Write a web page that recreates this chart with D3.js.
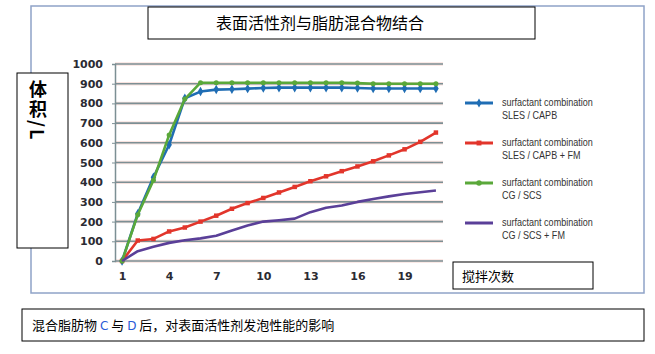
<!DOCTYPE html>
<html>
<head>
<meta charset="utf-8">
<script src="https://cdn.jsdelivr.net/npm/d3@7"></script>
<style>
  body { margin: 0; background: #fff; }
  svg { display: block; }
</style>
</head>
<body>
<div id="chart"></div>
<script>
// Data
const runs = [1, 2, 3, 4, 5, 6, 7, 8, 9, 10, 11, 12, 13, 14, 15, 16, 17, 18, 19, 20, 21];
const slesCapb = [0, 240, 425, 590, 826, 860, 870, 872, 875, 878, 880, 880, 880, 880, 880, 878, 876, 876, 876, 876, 876];
const slesCapbFm = [0, 104, 112, 150, 170, 200, 230, 265, 294, 320, 348, 376, 405, 430, 456, 480, 506, 536, 567, 605, 652];
const cgScs = [0, 235, 410, 640, 822, 905, 905, 905, 905, 905, 905, 905, 905, 905, 905, 903, 900, 900, 900, 900, 900];
const cgScsFm = [0, 50, 72, 92, 105, 115, 128, 155, 180, 200, 207, 215, 248, 270, 282, 300, 315, 328, 340, 349, 358];
const yTicks = [0, 100, 200, 300, 400, 500, 600, 700, 800, 900, 1000];
const xTicks = [1, 4, 7, 10, 13, 16, 19];

const series = [
  { name: ["surfactant combination", "SLES / CAPB"], values: slesCapb, color: "#1f6db4", symbol: d3.symbolDiamond },
  { name: ["surfactant combination", "SLES / CAPB + FM"], values: slesCapbFm, color: "#e2352b", symbol: d3.symbolSquare },
  { name: ["surfactant combination", "CG / SCS"], values: cgScs, color: "#5aa83a", symbol: d3.symbolCircle },
  { name: ["surfactant combination", "CG / SCS + FM"], values: cgScsFm, color: "#5a3f98", symbol: null }
];

const width = 655, height = 354;
const svg = d3.select("#chart").append("svg")
  .attr("width", width)
  .attr("height", height);

const cjk = "'Noto Sans CJK SC', sans-serif";
const tickFont = "'DejaVu Sans', sans-serif";

// Outer frame
svg.append("rect")
  .attr("x", 31).attr("y", 6).attr("width", 613).attr("height", 287)
  .attr("fill", "#fff").attr("stroke", "#8fa3c7").attr("stroke-width", 1.5);

// Title box
svg.append("rect")
  .attr("x", 148).attr("y", 7).attr("width", 387).attr("height", 32)
  .attr("fill", "#fff").attr("stroke", "#000").attr("stroke-width", 1);
svg.append("text")
  .attr("x", 320).attr("y", 29)
  .attr("text-anchor", "middle")
  .attr("font-family", cjk)
  .attr("font-size", 16)
  .attr("fill", "#000")
  .text("表面活性剂与脂肪混合物结合");

// Scales
const x = d3.scaleLinear().domain([0.55, 21.45]).range([115, 443]);
const y = d3.scaleLinear().domain([0, 1000]).range([261, 64]);

// Grid lines (gray with a faint pink halo, as in the scan)
svg.append("g")
  .selectAll("line")
  .data(yTicks)
  .join("line")
  .attr("x1", x(0.55)).attr("x2", x(21.45))
  .attr("y1", d => y(d)).attr("y2", d => y(d))
  .attr("stroke", "#f8e2de").attr("stroke-width", 3.5);
svg.append("g")
  .selectAll("line")
  .data(yTicks)
  .join("line")
  .attr("x1", x(0.55)).attr("x2", x(21.45))
  .attr("y1", d => y(d)).attr("y2", d => y(d))
  .attr("stroke", "#7c8f94").attr("stroke-width", 1.6);

// Left axis
const yAxis = svg.append("g")
  .attr("transform", `translate(${x(0.55)},0)`)
  .call(d3.axisLeft(y).tickValues(yTicks).tickFormat(d3.format("d")).tickSize(3).tickPadding(9));
yAxis.select(".domain").attr("stroke", "#7c8f94").attr("stroke-width", 1.5);
yAxis.selectAll(".tick line").attr("stroke", "#7c8f94");
yAxis.selectAll("text")
  .attr("font-family", tickFont)
  .attr("font-weight", "bold")
  .attr("font-size", 11)
  .attr("fill", "#2b2b33");

// Bottom axis labels
const xAxis = svg.append("g")
  .attr("transform", `translate(0,${y(0)})`)
  .call(d3.axisBottom(x).tickValues(xTicks).tickSize(0).tickPadding(11));
xAxis.select(".domain").remove();
xAxis.selectAll("text")
  .attr("font-family", tickFont)
  .attr("font-weight", "bold")
  .attr("font-size", 11)
  .attr("fill", "#2b2b33");

// Lines
const line = d3.line()
  .x((d, i) => x(runs[i]))
  .y(d => y(d));

series.forEach(s => {
  svg.append("path")
    .datum(s.values)
    .attr("fill", "none")
    .attr("stroke", s.color)
    .attr("stroke-width", 2.6)
    .attr("stroke-linejoin", "round")
    .attr("d", line);
  if (s.symbol) {
    svg.append("g")
      .selectAll("path")
      .data(s.values)
      .join("path")
      .attr("transform", (d, i) => `translate(${x(runs[i])},${y(d)})`)
      .attr("d", d3.symbol().type(s.symbol).size(s.symbol === d3.symbolDiamond ? 26 : 20))
      .attr("fill", s.color);
  }
});

// Legend
const legend = svg.append("g").attr("transform", "translate(465,103)");
series.forEach((s, i) => {
  const g = legend.append("g").attr("transform", `translate(0,${i * 40})`);
  g.append("line")
    .attr("x1", 0).attr("x2", 28)
    .attr("stroke", s.color).attr("stroke-width", 3);
  if (s.symbol) {
    g.append("path")
      .attr("transform", "translate(14,0)")
      .attr("d", d3.symbol().type(s.symbol).size(24))
      .attr("fill", s.color);
  }
  // condensed look: squeeze the text horizontally
  g.append("text")
    .attr("transform", "translate(37,3) scale(0.86,1)")
    .attr("font-family", "'Liberation Sans Narrow', 'Liberation Sans', sans-serif")
    .attr("font-size", 10.5)
    .attr("fill", "#333")
    .selectAll("tspan")
    .data(s.name)
    .join("tspan")
    .attr("x", 0)
    .attr("dy", (d, j) => j === 0 ? 0 : 13)
    .text(d => d);
});

// Y label box: vertical text, CJK upright and "/L" turned sideways
svg.append("rect")
  .attr("x", 17).attr("y", 73).attr("width", 51).attr("height", 175)
  .attr("fill", "#fff").attr("stroke", "#000").attr("stroke-width", 1);
svg.append("text")
  .attr("x", 38).attr("y", 80)
  .style("writing-mode", "vertical-rl")
  .attr("font-family", cjk)
  .attr("font-weight", "bold")
  .attr("font-size", 18)
  .attr("letter-spacing", 2)
  .text("体积/L");

// X label box
svg.append("rect")
  .attr("x", 453).attr("y", 262).attr("width", 140).attr("height", 27)
  .attr("fill", "#fff").attr("stroke", "#000").attr("stroke-width", 1);
svg.append("text")
  .attr("x", 462).attr("y", 281)
  .attr("font-family", cjk)
  .attr("font-size", 13)
  .text("搅拌次数");

// Caption box
svg.append("rect")
  .attr("x", 22).attr("y", 309).attr("width", 622).attr("height", 32)
  .attr("fill", "#fff").attr("stroke", "#000").attr("stroke-width", 1);
const caption = svg.append("text")
  .attr("x", 32).attr("y", 330)
  .attr("font-family", cjk)
  .attr("font-size", 13)
  .attr("fill", "#000");
caption.append("tspan").text("混合脂肪物 ");
caption.append("tspan").attr("fill", "#2a5bd7").attr("font-family", "'DejaVu Sans', sans-serif").attr("font-size", 12).text("C");
caption.append("tspan").text(" 与 ");
caption.append("tspan").attr("fill", "#2a5bd7").attr("font-family", "'DejaVu Sans', sans-serif").attr("font-size", 12).text("D");
caption.append("tspan").text(" 后，对表面活性剂发泡性能的影响");
</script>
</body>
</html>
